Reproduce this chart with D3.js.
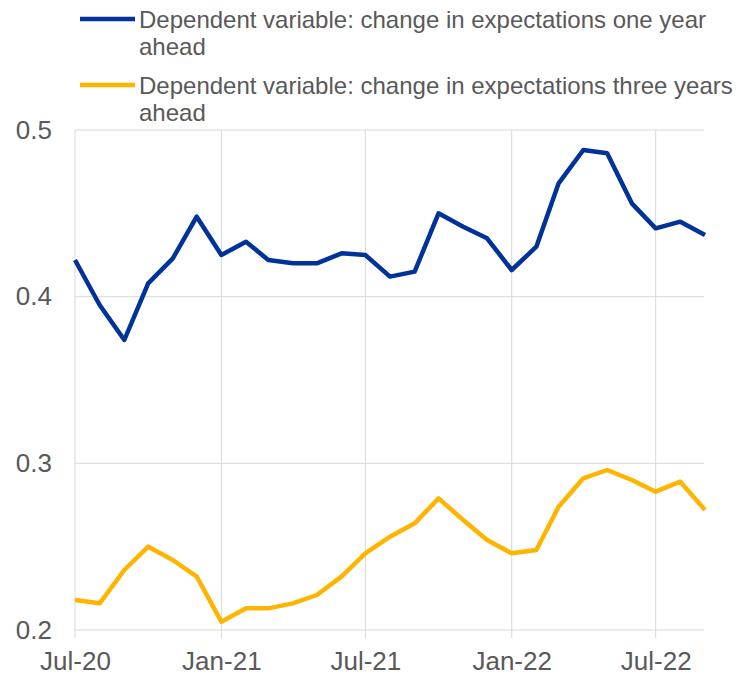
<!DOCTYPE html>
<html>
<head>
<meta charset="utf-8">
<script src="https://cdn.jsdelivr.net/npm/d3@7"></script>
<style>
  body { margin: 0; background: #fff; }
  text { font-family: "Liberation Sans", Arial, sans-serif; fill: #595959; }
</style>
</head>
<body>
<svg id="chart" width="740" height="676"></svg>
<script>
// Data
/////////////////////////////////
var months = ['2020-07','2020-08','2020-09','2020-10','2020-11','2020-12',
              '2021-01','2021-02','2021-03','2021-04','2021-05','2021-06',
              '2021-07','2021-08','2021-09','2021-10','2021-11','2021-12',
              '2022-01','2022-02','2022-03','2022-04','2022-05','2022-06',
              '2022-07','2022-08','2022-09'];

var oneYear = [0.422, 0.395, 0.374, 0.408, 0.423, 0.448,
               0.425, 0.433, 0.422, 0.420, 0.420, 0.426,
               0.425, 0.412, 0.415, 0.450, 0.442, 0.435,
               0.416, 0.430, 0.468, 0.488, 0.486, 0.456,
               0.441, 0.445, 0.437];

var threeYears = [0.218, 0.216, 0.236, 0.250, 0.242, 0.232,
                  0.205, 0.213, 0.213, 0.216, 0.221, 0.232,
                  0.246, 0.256, 0.264, 0.279, 0.266, 0.254,
                  0.246, 0.248, 0.274, 0.291, 0.296, 0.290,
                  0.283, 0.289, 0.272];

var xTicks = ['2020-07','2021-01','2021-07','2022-01','2022-07'];
var yTicks = [0.2, 0.3, 0.4, 0.5];

var seriesLabelLines = [['Dependent variable: change in expectations one year', 'ahead'],
                        ['Dependent variable: change in expectations three years', 'ahead']];
var colors = ['#003299', '#ffb400'];

var parse = d3.timeParse('%Y-%m');
var fmt = d3.timeFormat('%b-%y');

var margin = { top: 130, right: 35, bottom: 46, left: 75 },
    width = 740 - margin.left - margin.right,
    height = 676 - margin.top - margin.bottom;

var svg = d3.select('#chart');
var g = svg.append('g').attr('transform', 'translate(' + margin.left + ',' + margin.top + ')');

var x = d3.scaleTime()
    .domain([parse(months[0]), parse(months[months.length - 1])])
    .range([0, width]);

var y = d3.scaleLinear()
    .domain([0.2, 0.5])
    .range([height, 0]);

// gridlines
g.append('g')
    .selectAll('line.h')
    .data(yTicks)
    .enter().append('line')
    .attr('x1', 0).attr('x2', width - 1)
    .attr('y1', function (d) { return y(d); })
    .attr('y2', function (d) { return y(d); })
    .attr('stroke', '#d9d9d9').attr('stroke-width', 1);

g.append('g')
    .selectAll('line.v')
    .data(xTicks.map(parse))
    .enter().append('line')
    .attr('x1', function (d) { return x(d); })
    .attr('x2', function (d) { return x(d); })
    .attr('y1', 0).attr('y2', height + 8)
    .attr('stroke', '#d9d9d9').attr('stroke-width', 1);

// axes (labels only)
var xAxis = d3.axisBottom(x)
    .tickValues(xTicks.map(parse))
    .tickFormat(fmt)
    .tickSize(0)
    .tickPadding(22);

var gx = g.append('g').attr('transform', 'translate(0,' + height + ')').call(xAxis);
gx.select('.domain').remove();
gx.selectAll('text').attr('font-size', 26).attr('font-family', null).style('fill', '#595959');

var yAxis = d3.axisLeft(y)
    .tickValues(yTicks)
    .tickFormat(d3.format('.1f'))
    .tickSize(0)
    .tickPadding(23);

var gy = g.append('g').call(yAxis);
gy.select('.domain').remove();
gy.selectAll('text').attr('font-size', 26).attr('font-family', null).style('fill', '#595959');

// lines
var line = d3.line()
    .x(function (d) { return x(d.date); })
    .y(function (d) { return y(d.value); });

[oneYear, threeYears].forEach(function (vals, i) {
    var pts = months.map(function (m, j) { return { date: parse(m), value: vals[j] }; });
    g.append('path')
        .datum(pts)
        .attr('fill', 'none')
        .attr('stroke', colors[i])
        .attr('stroke-width', 4.5)
        .attr('stroke-linejoin', 'round')
        .attr('d', line);
});

// legend
var legend = svg.append('g');
seriesLabelLines.forEach(function (lines, i) {
    var top = 19 + i * 66;
    legend.append('line')
        .attr('x1', 80).attr('x2', 135)
        .attr('y1', top).attr('y2', top)
        .attr('stroke', colors[i]).attr('stroke-width', 4.5);
    var t = legend.append('text')
        .attr('x', 139).attr('y', top + 9)
        .attr('font-size', 24);
    lines.forEach(function (s, k) {
        t.append('tspan').attr('x', 139).attr('dy', k ? 27 : 0).text(s);
    });
});
</script>
</body>
</html>
